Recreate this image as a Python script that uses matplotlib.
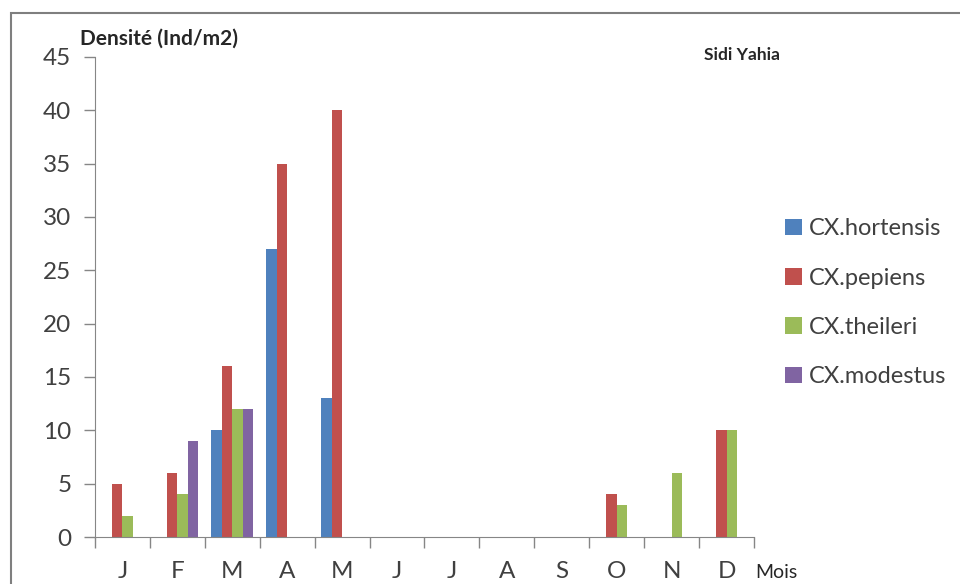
import numpy as np
import matplotlib
matplotlib.use("Agg")
import matplotlib.pyplot as plt
from matplotlib.patches import Rectangle

plt.rcParams['font.family'] = ['Lato', 'DejaVu Sans']

# Data
months = ["J", "F", "M", "A", "M", "J", "J", "A", "S", "O", "N", "D"]
species = ["CX.hortensis", "CX.pepiens", "CX.theileri", "CX.modestus"]
hortensis = [0, 0, 10, 27, 13, 0, 0, 0, 0, 0, 0, 0]
pepiens = [5, 6, 16, 35, 40, 0, 0, 0, 0, 4, 0, 10]
theileri = [2, 4, 12, 0, 0, 0, 0, 0, 0, 3, 6, 10]
modestus = [0, 9, 12, 0, 0, 0, 0, 0, 0, 0, 0, 0]
colors = ["#4F81BD", "#C0504D", "#9BBB59", "#8064A2"]

fig = plt.figure(figsize=(9.6, 5.84), dpi=100)
# outer chart border
fig.patches.append(Rectangle((11 / 960, -0.05), 1.1, 1 - 13 / 584 + 0.05,
                             transform=fig.transFigure, fill=False,
                             edgecolor="#7f7f7f", linewidth=1.5))

ax = fig.add_axes([95 / 960, 1 - 537 / 584, (754 - 95) / 960, (537 - 57) / 584])

x = np.arange(len(months))
w = 0.19
series = [hortensis, pepiens, theileri, modestus]
for i, (vals, name, c) in enumerate(zip(series, species, colors)):
    ax.bar(x + (i - 1.5) * w, vals, width=w, color=c, label=name)

ax.set_xlim(-0.5, len(months) - 0.5)
ax.set_ylim(0, 45)
ax.set_yticks(range(0, 46, 5))
ax.set_xticks(x)
ax.set_xticklabels(months)
ax.set_xticks(np.arange(-0.5, len(months)), minor=True)

for s in ["top", "right"]:
    ax.spines[s].set_visible(False)
for s in ["left", "bottom"]:
    ax.spines[s].set_color("#868686")

ax.tick_params(axis="y", length=8, width=1, color="#868686", pad=9,
               labelsize=17.5, labelcolor="#404040")
ax.tick_params(axis="x", which="major", length=0, pad=17,
               labelsize=17.5, labelcolor="#404040")
ax.tick_params(axis="x", which="minor", length=8, width=1, color="#868686")

fig.text(80 / 960, 1 - 39 / 584, "Densité (Ind/m2)", fontsize=15,
         fontweight="bold", color="#262626", va="center", ha="left")
fig.text(742 / 960, 1 - 55 / 584, "Sidi Yahia", fontsize=12.5,
         fontweight="bold", color="#262626", va="center", ha="center")
fig.text(755 / 960, 1 - 573 / 584, "Mois", fontsize=14,
         color="#262626", va="center", ha="left")

ax.legend(loc="upper left", bbox_to_anchor=(764 / 960, 1 - 197 / 584),
          bbox_transform=fig.transFigure, frameon=False, fontsize=17,
          handlelength=0.7, handleheight=0.7, handletextpad=0.3,
          labelspacing=1.2, labelcolor="#404040")

fig.savefig("out.png", dpi=100)
